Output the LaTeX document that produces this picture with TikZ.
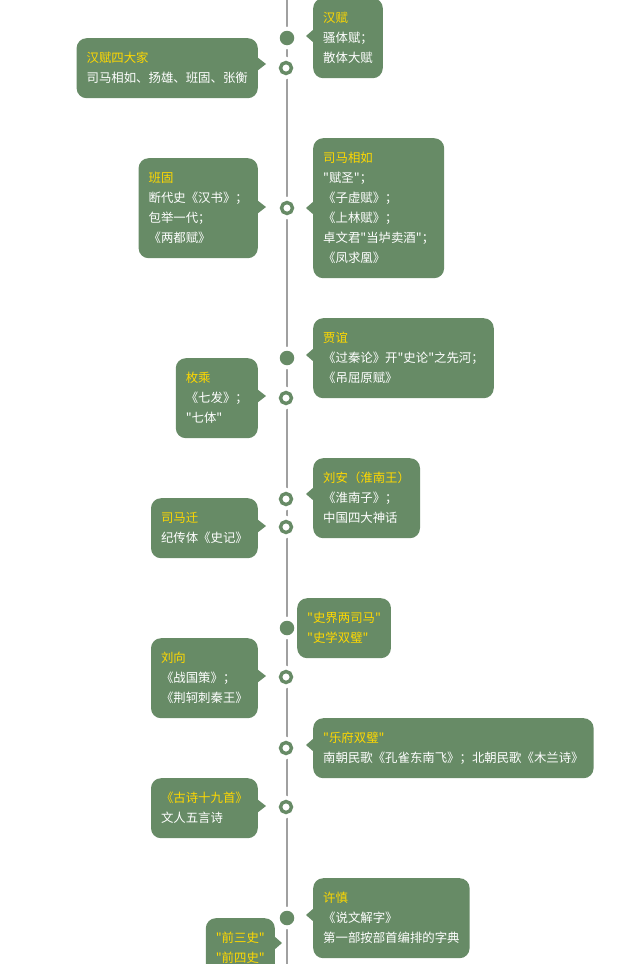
\documentclass[tikz,border=0pt]{standalone}
\usepackage{fontspec}
\newfontfamily\cjk[Ligatures=TeXOff]{Noto Sans CJK SC}
\usetikzlibrary{calc}
\definecolor{tlgreen}{HTML}{678B66}
\definecolor{tlgold}{HTML}{FFD800}
\definecolor{tlgray}{HTML}{A0A0A0}
\newcommand{\ttl}[1]{\strut{\color{tlgold}#1}}

\begin{document}
\begin{tikzpicture}[
    x=1pt, y=-1pt,
    callout/.style={fill=tlgreen, rounded corners=10pt, align=left, inner xsep=10pt, inner ysep=10pt, text=white, font=\cjk\fontsize{12.4}{20}\selectfont, execute at end node=\strut},
    lbox/.style={callout, anchor=north east},
    rbox/.style={callout, anchor=north west},
    dotfull/.style={circle, fill=tlgreen, minimum size=14.5pt, inner sep=0pt, preaction={draw=white, line width=8pt}},
    dotring/.style={circle, draw=tlgreen, fill=white, line width=3.4pt, minimum size=11pt, inner sep=0pt, preaction={draw=white, line width=11pt}},
    pointer/.style={fill=tlgreen},
    timeline/.style={draw=tlgray, line width=2pt}
  ]
    \useasboundingbox (0,0) rectangle (620,964);

    % time axis
    \coordinate (axtop) at (287,0);
    \coordinate (axbot) at (287,964);
    \path[timeline] (axtop) -- (axbot);

    % markers
    \node[dotfull] (m1) at (287,38) {};
    \node[dotring] (m2) at (286,68) {};
    \node[dotring] (m3) at (287,208) {};
    \node[dotfull] (m4) at (287,358) {};
    \node[dotring] (m5) at (286,398) {};
    \node[dotring] (m6) at (286,499) {};
    \node[dotring] (m7) at (286,527) {};
    \node[dotfull] (m8) at (287,628) {};
    \node[dotring] (m9) at (286,677) {};
    \node[dotring] (m10) at (286,748) {};
    \node[dotring] (m11) at (286,807) {};
    \node[dotfull] (m12) at (287,918) {};
    \coordinate (m13) at (287,944);

    % right side
    \node[rbox] (hanfu) at (313,-2) {\ttl{汉赋}\\骚体赋；\\散体大赋};
    \node[rbox] (xiangru) at (313,138) {\ttl{司马相如}\\"赋圣"；\\《子虚赋》；\\《上林赋》；\\卓文君"当垆卖酒"；\\《凤求凰》};
    \node[rbox] (jiayi) at (313,318) {\ttl{贾谊}\\《过秦论》开"史论"之先河；\\《吊屈原赋》};
    \node[rbox] (liuan) at (313,458) {\ttl{刘安（淮南王）}\\《淮南子》；\\中国四大神话};
    \node[rbox] (liangsima) at (297,598) {\ttl{"史界两司马"}\\\ttl{"史学双璧"}};
    \node[rbox] (yuefu) at (313,718) {\ttl{"乐府双璧"}\\南朝民歌《孔雀东南飞》；北朝民歌《木兰诗》};
    \node[rbox] (xushen) at (313,878) {\ttl{许慎}\\《说文解字》\\第一部按部首编排的字典};

    % left side
    \node[lbox] (sidajia) at (258,38) {\ttl{汉赋四大家}\\司马相如、扬雄、班固、张衡};
    \node[lbox] (bangu) at (258,158) {\ttl{班固}\\断代史《汉书》；\\包举一代；\\《两都赋》};
    \node[lbox] (meicheng) at (258,358) {\ttl{枚乘}\\《七发》；\\"七体"};
    \node[lbox] (simaqian) at (258,498) {\ttl{司马迁}\\纪传体《史记》};
    \node[lbox] (liuxiang) at (258,638) {\ttl{刘向}\\《战国策》；\\《荆轲刺秦王》};
    \node[lbox] (gushi) at (258,778) {\ttl{《古诗十九首》}\\文人五言诗};
    \node[lbox] (qiansanshi) at (275,918) {\ttl{"前三史"}\\\ttl{"前四史"}};

    % pointers
    \fill[pointer] ($(hanfu.west |- m1)+(1,-9)$) -- ++(-8,7) -- ++(8,7) -- cycle;
    \fill[pointer] ($(xiangru.west |- m3)+(1,-7)$) -- ++(-8,7) -- ++(8,7) -- cycle;
    \fill[pointer] ($(jiayi.west |- m4)+(1,-10)$) -- ++(-8,7) -- ++(8,7) -- cycle;
    \fill[pointer] ($(liuan.west |- m6)+(1,-12)$) -- ++(-8,7) -- ++(8,7) -- cycle;
    \fill[pointer] ($(yuefu.west |- m10)+(1,-10)$) -- ++(-8,7) -- ++(8,7) -- cycle;
    \fill[pointer] ($(xushen.west |- m12)+(1,-10)$) -- ++(-8,7) -- ++(8,7) -- cycle;
    \fill[pointer] ($(sidajia.east |- m2)+(-1,-11)$) -- ++(9,7) -- ++(-9,7) -- cycle;
    \fill[pointer] ($(bangu.east |- m3)+(-1,-8)$) -- ++(9,7) -- ++(-9,7) -- cycle;
    \fill[pointer] ($(meicheng.east |- m5)+(-1,-9)$) -- ++(9,7) -- ++(-9,7) -- cycle;
    \fill[pointer] ($(simaqian.east |- m7)+(-1,-8)$) -- ++(9,7) -- ++(-9,7) -- cycle;
    \fill[pointer] ($(liuxiang.east |- m9)+(-1,-8)$) -- ++(9,7) -- ++(-9,7) -- cycle;
    \fill[pointer] ($(gushi.east |- m11)+(-1,-8)$) -- ++(9,7) -- ++(-9,7) -- cycle;
    \fill[pointer] ($(qiansanshi.east |- m13)+(-1,-8)$) -- ++(8,7) -- ++(-8,7) -- cycle;
  \end{tikzpicture}
\end{document}
